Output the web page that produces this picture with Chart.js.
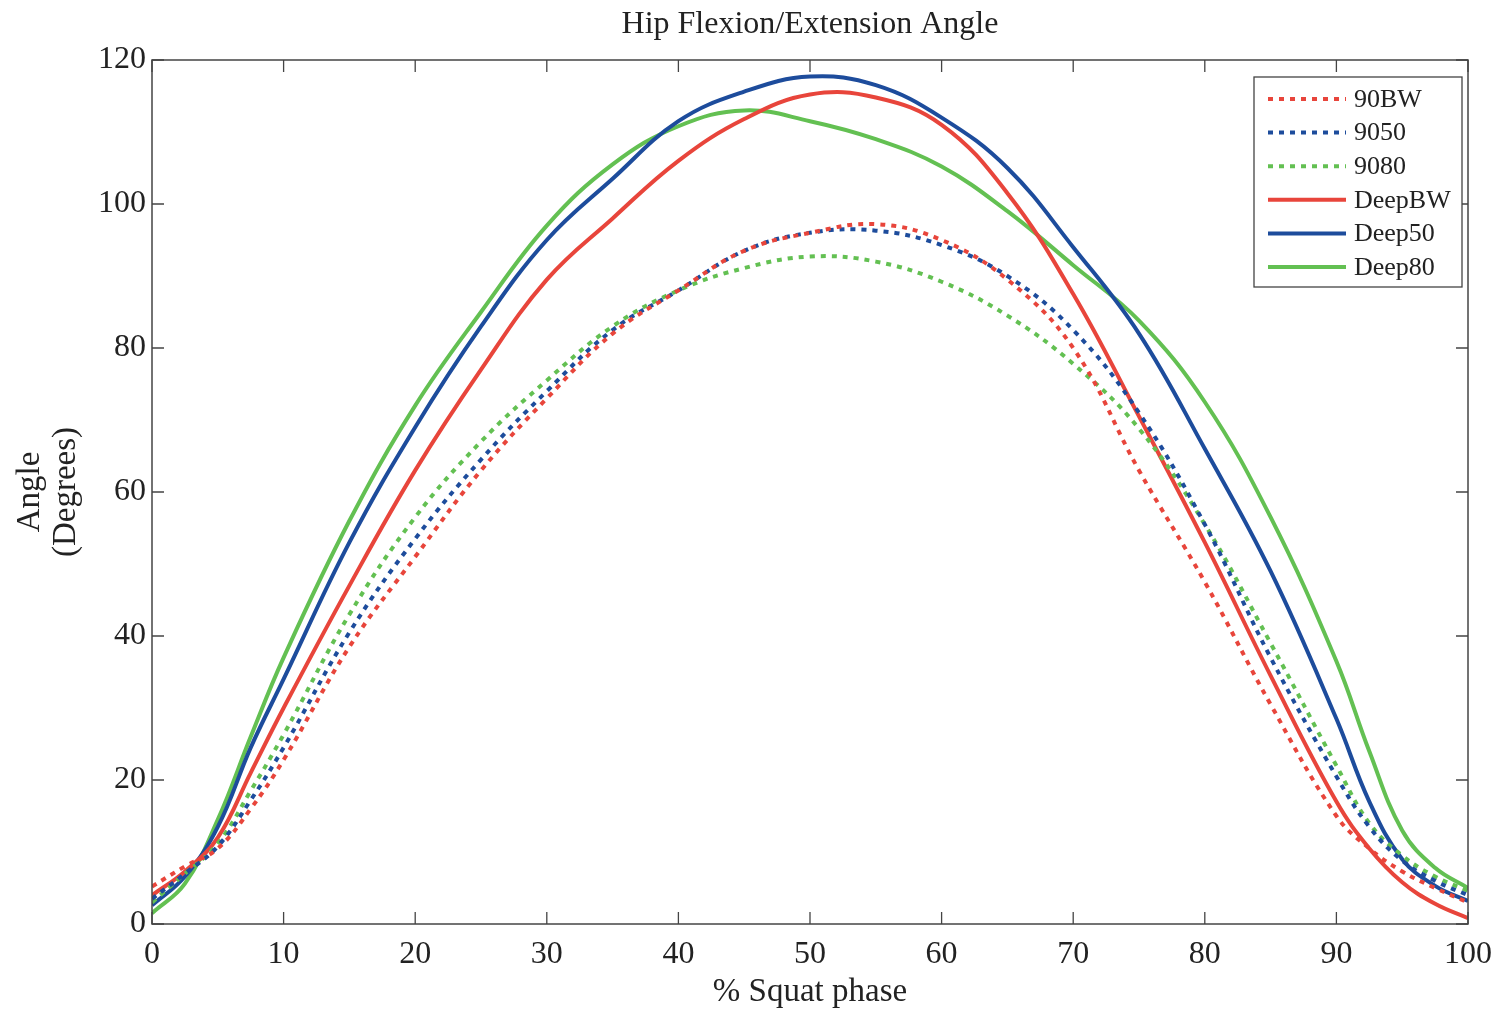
<!DOCTYPE html>
<html>
<head>
<meta charset="utf-8">
<title>Hip Flexion/Extension Angle</title>
<script src="https://cdn.jsdelivr.net/npm/chart.js@4.4.1/dist/chart.umd.min.js"></script>
<style>
  html, body { margin: 0; padding: 0; background: #fff; }
  #wrap { width: 1503px; height: 1012px; position: relative; }
</style>
</head>
<body>
<div id="wrap"><canvas id="hipChart"></canvas></div>
<script>
// % squat phase sample positions
const phase = [0, 2.5, 5, 7.5, 10, 15, 20, 25, 30, 35, 40, 45, 50, 55, 60, 65, 70, 75, 80, 85, 90, 92.5, 95, 97.5, 100];

// hip angle (degrees)
const hip90BW  = [5.2, 8, 10.5, 16, 22.8, 38.5, 51, 63, 73, 82, 88, 93.5, 96, 97.2, 95, 89.5, 80, 63, 47.5, 30.5, 15, 10.5, 7.3, 5, 3];
const hip9050  = [3.5, 7, 10.8, 17.2, 24.5, 40.5, 53.5, 64.5, 74, 82.5, 88, 93.5, 96, 96.3, 94.3, 90, 82.5, 71, 55.5, 37, 20.5, 13.5, 8.8, 6, 4];
const hip9080  = [3, 7, 11.2, 18.5, 26.3, 43, 56.5, 67, 75.5, 83, 88, 91.1, 92.7, 92, 89.2, 84.5, 77.8, 68.8, 55.5, 39, 22, 14, 9.5, 6.6, 4.6];
const deepBW   = [4, 7.3, 12, 21, 30, 47, 63, 77, 89.5, 98, 106, 111.8, 115.2, 114.8, 111, 101.5, 87.5, 70.5, 53, 34.5, 17, 10.5, 5.8, 2.8, 0.8];
const deep50   = [2.6, 6.6, 13.5, 24.5, 34, 53, 69, 83, 95, 103.5, 111.5, 115.6, 117.7, 116.5, 112, 105, 94, 82, 66, 49, 28.5, 17, 9, 5.3, 3.2];
const deep80   = [1.5, 5.6, 14.5, 26, 37, 56, 72, 85, 97, 105.5, 110.8, 113, 111.5, 109, 105.2, 99, 91.5, 83.8, 72.5, 56.5, 36.5, 24, 13, 7.8, 5];

const xTicks = [0, 10, 20, 30, 40, 50, 60, 70, 80, 90, 100];
const yTicks = [0, 20, 40, 60, 80, 100, 120];

const RED = '#e8453b', BLUE = '#1d4c9c', GREEN = '#63c052';
const SERIF = '"Liberation Serif", "DejaVu Serif", serif';

function pts(arr) {
    return phase.map((p, i) => ({ x: p, y: arr[i] }));
}

function line(label, arr, color, dotted) {
    return {
        label: label,
        data: pts(arr),
        borderColor: color,
        backgroundColor: color,
        borderWidth: 4,
        borderDash: dotted ? [5, 6] : [],
        pointRadius: 0,
        tension: 0.4,
        fill: false
    };
}

// box, inward tick marks, title and legend in matlab style
const matlabFrame = {
    id: 'matlabFrame',
    afterDraw(chart) {
        const { ctx, chartArea: a, scales } = chart;
        ctx.save();
        ctx.strokeStyle = '#444';
        ctx.lineWidth = 1.5;
        ctx.strokeRect(a.left, a.top, a.right - a.left, a.bottom - a.top);

        ctx.lineWidth = 1.3;
        ctx.beginPath();
        xTicks.forEach(v => {
            const px = scales.x.getPixelForValue(v);
            ctx.moveTo(px, a.bottom); ctx.lineTo(px, a.bottom - 12);
            ctx.moveTo(px, a.top); ctx.lineTo(px, a.top + 12);
        });
        yTicks.forEach(v => {
            const py = scales.y.getPixelForValue(v);
            ctx.moveTo(a.left, py); ctx.lineTo(a.left + 12, py);
            ctx.moveTo(a.right, py); ctx.lineTo(a.right - 12, py);
        });
        ctx.stroke();

        // title
        ctx.fillStyle = '#222';
        ctx.font = '32px ' + SERIF;
        ctx.textAlign = 'center';
        ctx.textBaseline = 'middle';
        ctx.fillText('Hip Flexion/Extension Angle', (a.left + a.right) / 2, 25);

        // legend
        const bx = 1254, by = 77, bw = 208, bh = 210;
        ctx.fillStyle = '#fff';
        ctx.fillRect(bx, by, bw, bh);
        ctx.strokeStyle = '#444';
        ctx.lineWidth = 1.3;
        ctx.strokeRect(bx, by, bw, bh);
        ctx.font = '26px ' + SERIF;
        ctx.textAlign = 'left';
        chart.data.datasets.forEach((ds, i) => {
            const y = 99 + i * 33.6;
            ctx.strokeStyle = ds.borderColor;
            ctx.lineWidth = ds.borderWidth;
            ctx.setLineDash(ds.borderDash);
            ctx.beginPath();
            ctx.moveTo(1268, y); ctx.lineTo(1346, y);
            ctx.stroke();
            ctx.setLineDash([]);
            ctx.fillStyle = '#222';
            ctx.fillText(ds.label, 1354, y + 1);
        });
        ctx.restore();
    }
};

new Chart(document.getElementById('hipChart'), {
    type: 'line',
    data: {
        datasets: [
            line('90BW', hip90BW, RED, true),
            line('9050', hip9050, BLUE, true),
            line('9080', hip9080, GREEN, true),
            line('DeepBW', deepBW, RED, false),
            line('Deep50', deep50, BLUE, false),
            line('Deep80', deep80, GREEN, false)
        ]
    },
    options: {
        responsive: true,
        maintainAspectRatio: false,
        animation: false,
        layout: { padding: { top: 60, right: 32, left: 0, bottom: 0 } },
        plugins: {
            legend: { display: false },
            title: { display: false },
            tooltip: { enabled: false }
        },
        scales: {
            x: {
                type: 'linear',
                min: 0,
                max: 100,
                afterFit: s => { s.height = 88; },
                afterBuildTicks: s => { s.ticks = xTicks.map(v => ({ value: v })); },
                grid: { display: false, drawTicks: false },
                border: { display: false },
                ticks: {
                    color: '#222',
                    font: { family: SERIF, size: 32 },
                    padding: 11,
                    maxRotation: 0
                },
                title: {
                    display: true,
                    text: '% Squat phase',
                    color: '#222',
                    font: { family: SERIF, size: 33, lineHeight: 1.1 },
                    padding: { top: 0, bottom: 2 }
                }
            },
            y: {
                min: 0,
                max: 120,
                afterFit: s => { s.width = 152; },
                afterBuildTicks: s => { s.ticks = yTicks.map(v => ({ value: v })); },
                grid: { display: false, drawTicks: false },
                border: { display: false },
                ticks: {
                    color: '#222',
                    font: { family: SERIF, size: 32 },
                    padding: 6
                },
                title: {
                    display: true,
                    text: ['Angle', '(Degrees)'],
                    color: '#222',
                    font: { family: SERIF, size: 33, lineHeight: 1.1 },
                    padding: { top: 12, bottom: 0 }
                }
            }
        }
    },
    plugins: [matlabFrame]
});
</script>
</body>
</html>
